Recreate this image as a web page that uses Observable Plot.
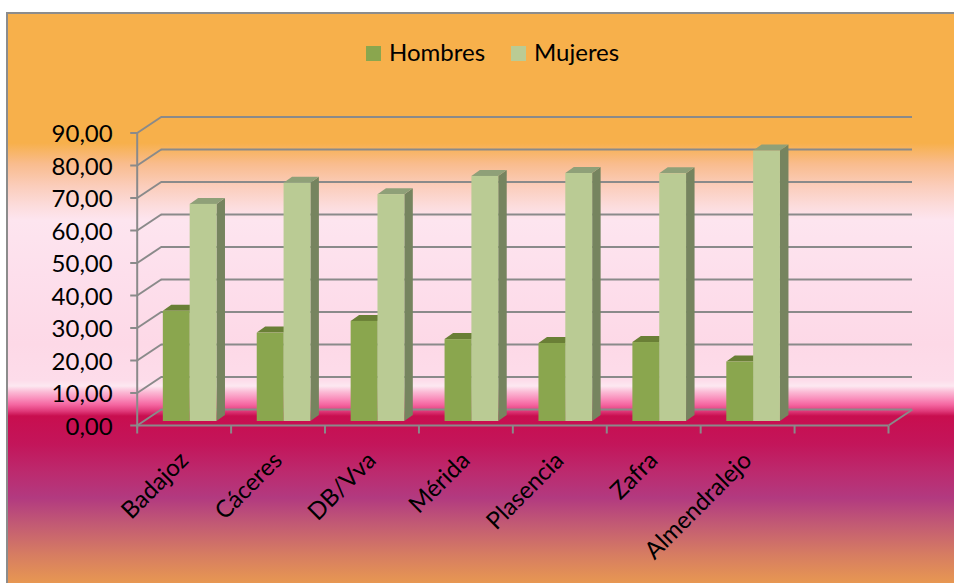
<!DOCTYPE html>
<html><head><meta charset="utf-8">
<script src="https://cdn.jsdelivr.net/npm/d3@7"></script>
<script src="https://cdn.jsdelivr.net/npm/@observablehq/plot@0.6"></script>
<style>
body{margin:0;background:#fff}
#wrap{position:relative;width:954px;height:583px;overflow:hidden;background:#fff;font-family:Lato,sans-serif}
#bg{position:absolute;left:6px;top:12px;width:970px;height:600px;border:2px solid #8c8c8c;
background:linear-gradient(to bottom,
#F7B04B 0px,#F7B04B 129px,#F9BC8E 150px,#FBCDBB 172px,#FCDCDC 192px,#FDE5EF 206px,
#FDDFEC 260px,#FDD9E7 330px,#FDDCEA 366px,#FDE8F1 372px,#FBBAD5 378px,#F98CBA 385px,
#F4649F 391px,#E03A7A 397px,#C80E4F 402px,#C3155A 430px,#BC2A6E 458px,#B23A80 484px,
#C25A74 510px,#D67C62 540px,#E99A50 572px,#EC9C50 600px);}
#legend{position:relative;height:82px}
.sw{position:absolute;top:46px;width:15px;height:15px}
.lt{position:absolute;top:40px;font-size:24px;line-height:24px;color:#000;white-space:nowrap}
#chart{position:relative}
</style></head>
<body>
<div id="wrap">
  <div id="bg"></div>
  <div id="legend">
    <div class="sw" style="left:366px;background:#8AA64E"></div><div class="lt" style="left:389px">Hombres</div>
    <div class="sw" style="left:511px;background:#BACB94"></div><div class="lt" style="left:534px">Mujeres</div>
  </div>
  <div id="chart"></div>
</div>
<script>
// ---- data ----
const categories = ["Badajoz", "Cáceres", "DB/Vva", "Mérida", "Plasencia", "Zafra", "Almendralejo", ""];
const series = ["Hombres", "Mujeres"];
const hombres = [33.9, 27.2, 30.8, 25.2, 24.0, 24.3, 18.3, null];
const mujeres = [66.8, 73.3, 69.8, 75.4, 76.3, 76.2, 83.2, null];
const yTicks = [0, 10, 20, 30, 40, 50, 60, 70, 80, 90];

// ---- layout ----
const W = 954, H = 501, TOP = 82;
const xLeft = 136.7, xRight = 888, yZero = 425 - TOP, yTop = 132.5 - TOP;
const nCat = categories.length;
const pxX = (xRight - xLeft) / nCat;
const pxY = (yZero - yTop) / 90;
const wallDX = 24 / pxX, wallDY = 16 / pxY;
const barDX = 8.5 / pxX, barDY = 6 / pxY;
const gray = "#8a8a8a", sw = 2;

const vals = {Hombres: hombres, Mujeres: mujeres};
const colors = {
  Hombres: {front: "#8AA64E", top: "#6A7F36", side: "#66793A"},
  Mujeres: {front: "#BACB94", top: "#8FA078", side: "#76845F"}
};
const unit = 3.5; // 2 bars + 150% gap
const bars = [];
series.forEach((s, si) => {
  vals[s].forEach((v, i) => {
    if (v == null) return;
    const x1 = i + (0.75 + si) / unit, x2 = i + (1.75 + si) / unit;
    bars.push({id: s + i, s, i, v, x1, x2});
  });
});
const topRows = bars.flatMap(b => [
  {id: b.id, s: b.s, y: b.v, xa: b.x1, xb: b.x2},
  {id: b.id, s: b.s, y: b.v + barDY, xa: b.x1 + barDX, xb: b.x2 + barDX}
]);
const sideRows = bars.flatMap(b => [
  {id: b.id, s: b.s, x: b.x2, ya: 0, yb: b.v},
  {id: b.id, s: b.s, x: b.x2 + barDX, ya: barDY, yb: b.v + barDY}
]);

const fmt = d => d.toFixed(2).replace(".", ",");

const barMarks = series.flatMap(s => [
  Plot.areaY(sideRows.filter(r => r.s === s), {x: "x", y1: "ya", y2: "yb", z: "id", fill: colors[s].side, dx: 6, dy: -4}),
  Plot.areaX(topRows.filter(r => r.s === s), {y: "y", x1: "xa", x2: "xb", z: "id", fill: colors[s].top, dx: 6, dy: -4}),
  Plot.rect(bars.filter(b => b.s === s), {x1: "x1", x2: "x2", y1: 0, y2: "v", fill: colors[s].front, dx: 6, dy: -4})
]);

const chart = Plot.plot({
  width: W, height: H,
  marginLeft: xLeft, marginRight: W - xRight, marginTop: yTop, marginBottom: H - yZero,
  x: {domain: [0, nCat], axis: null},
  y: {domain: [0, 90], axis: null},
  style: {background: "transparent", fontFamily: "Lato, sans-serif", color: "#000", overflow: "visible"},
  marks: [
    // back wall gridlines
    Plot.ruleY(yTicks, {y: d => d + wallDY, x1: wallDX, x2: nCat + wallDX, stroke: gray, strokeWidth: sw}),
    // left wall diagonals
    Plot.link(yTicks, {x1: 0, y1: d => d, x2: wallDX, y2: d => d + wallDY, stroke: gray, strokeWidth: sw}),
    // right floor diagonal
    Plot.link([nCat], {x1: d => d, y1: 0, x2: d => d + wallDX, y2: wallDY, stroke: gray, strokeWidth: sw}),
    // front floor edge
    Plot.ruleY([0], {x1: 0, x2: nCat, stroke: gray, strokeWidth: sw}),
    // y axis line
    Plot.ruleX([0], {y1: -1, y2: 90, stroke: gray, strokeWidth: sw}),
    // y ticks
    Plot.link(yTicks, {x1: 0, x2: -7 / pxX, y1: d => d, y2: d => d, stroke: gray, strokeWidth: sw}),
    // x ticks
    Plot.link(d3.range(nCat + 1), {x1: d => d, x2: d => d, y1: 0, y2: -8 / pxY, stroke: gray, strokeWidth: sw}),
    ...barMarks,
    // y labels
    Plot.text(yTicks, {x: 0, y: d => d, text: fmt, textAnchor: "end", dx: -24.5, dy: 1.5, fontSize: 24, fill: "#000"}),
    // x labels
    Plot.text(categories.map((c, i) => ({c, i})).filter(d => d.c), {x: d => d.i + 0.5, y: 0, text: "c", rotate: -45, textAnchor: "end", dy: 31, fontSize: 24, fill: "#000"})
  ]
});
document.getElementById("chart").appendChild(chart);
</script>
</body></html>
